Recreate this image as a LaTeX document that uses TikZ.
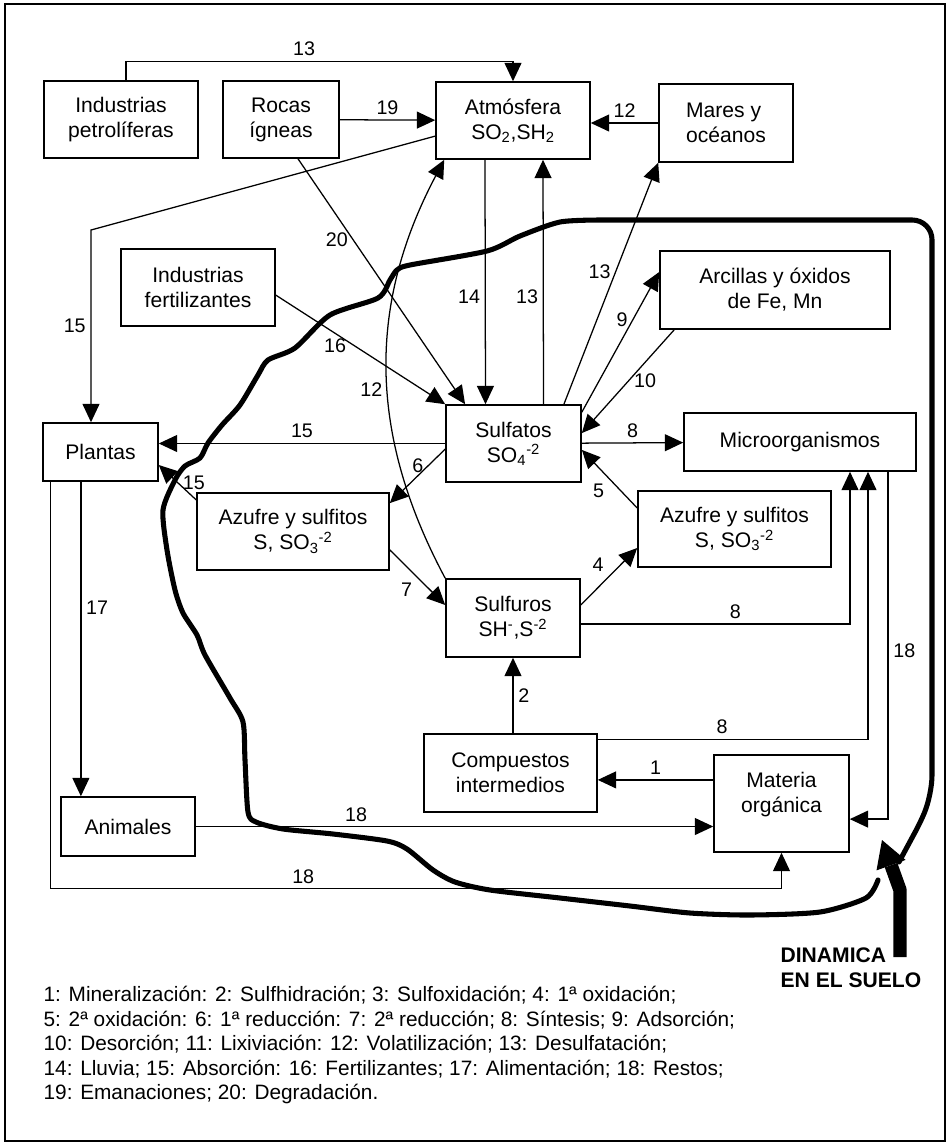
\documentclass[tikz,border=0pt]{standalone}
\usepackage{fontspec}
\setmainfont{Liberation Sans}
\usetikzlibrary{arrows.meta,positioning}

\begin{document}
\begin{tikzpicture}
			[->, >={Triangle[length=13pt,width=12pt]}, x=0.025cm, y=-0.025cm,
			line width=0.9pt, align=center, font=\fontsize{14}{17}\selectfont,
			box/.style 2 args={draw, line width=1.1pt, minimum width=#1, minimum height=#2,
				inner sep=2pt, font=\fontsize{15}{17.7}\selectfont},
			soil/.style={-, line width=3.6pt, line join=round, line cap=round}]
			\useasboundingbox (0,0) rectangle (948,1147);
			\draw[-, line width=1.2pt] (5,4) rectangle (945,1141);
			
			\node[box={3.85cm}{1.925cm}] (petro) at (121,119.5) {Industrias\\petrolíferas};
			\node[box={2.9cm}{1.925cm}] (rocas) at (281,119.5) {Rocas\\ígneas};
			\node[box={3.85cm}{1.925cm}] (atmos) at (513,120.5) {Atmósfera\\SO\textsubscript{2},SH\textsubscript{2}};
			\node[box={3.35cm}{1.95cm}, align=left] (mares) at (726,123) {Mares y\\océanos};
			\node[box={3.85cm}{1.925cm}] (fert) at (198,287.5) {Industrias\\fertilizantes};
			\node[box={5.75cm}{1.95cm}] (arcillas) at (775,290) {Arcillas y óxidos\\de Fe, Mn};
			\node[box={2.875cm}{1.45cm}] (plantas) at (100.5,452) {Plantas};
			\node[box={3.375cm}{1.925cm}] (sulfatos) at (513.5,443.5) {Sulfatos\\SO\textsubscript{4}\textsuperscript{-2}};
			\node[box={5.8cm}{1.45cm}] (micro) at (800,442) {Microorganismos};
			\node[box={4.8cm}{1.925cm}] (azufreL) at (293,531.5) {Azufre y sulfitos\\S, SO\textsubscript{3}\textsuperscript{-2}};
			\node[box={4.825cm}{1.9cm}] (azufreR) at (734.5,529) {Azufre y sulfitos\\S, SO\textsubscript{3}\textsuperscript{-2}};
			\node[box={3.35cm}{1.95cm}] (sulfuros) at (513,618) {Sulfuros\\SH\textsuperscript{-},S\textsuperscript{-2}};
			\node[box={4.325cm}{1.95cm}] (comp) at (510.5,773) {Compuestos\\intermedios};
			\node[box={3.375cm}{2.425cm}] (materia) at (781.5,803.5) {Materia\\orgánica\\[-2pt]\mbox{}};
			\node[box={3.35cm}{1.475cm}] (animales) at (128,826.5) {Animales};
			\coordinate (k15) at (91,230);
			
			\draw[-, every edge/.append style={->}]
			(rocas) edge node[above]{19} (atmos)
			(mares.west) edge node[above]{12} (mares.west -| atmos.east)
			([xshift=.425cm]rocas.south) edge node[pos=.33, left]{20} ([xshift=-1.21cm]sulfatos.north)
			([yshift=-.19cm]fert.east) edge node[pos=.35, below]{16} (sulfatos.north west)
			([xshift=-.7cm]atmos.south) edge node[pos=.56, left]{14} ([xshift=-.7cm]sulfatos.north)
			([xshift=.75cm]sulfatos.north) edge node[pos=.44, left]{13} ([xshift=.75cm]atmos.south)
			([xshift=1.26cm]sulfatos.north) edge node[pos=.55, left]{13} (mares.south west)
			([yshift=-.2cm]sulfatos.north east) edge node[pos=.66, left]{9} ([yshift=.45cm]arcillas.west)
			([xshift=.375cm]arcillas.south west) edge node[pos=.49, right]{10} ([yshift=.26cm]sulfatos.east)
			(sulfatos) edge node[above]{8} (micro)
			([yshift=.525cm]azufreR.west) edge node[below left]{5} ([yshift=-.16cm]sulfatos.east)
			([yshift=.325cm]sulfuros.east) edge node[above left]{4} ([yshift=-.475cm]azufreR.west)
			([yshift=-.46cm]azufreL.east) edge node[below left]{7} ([yshift=.325cm]sulfuros.west)
			([yshift=-.14cm]sulfatos.west) edge node[pos=.3, left]{6} ([yshift=.71cm]azufreL.east)
			(sulfatos.west) edge node[above]{15} (sulfatos.west -| plantas.east)
			([yshift=.79cm]azufreL.west) edge node[right]{15} ([yshift=-.325cm]plantas.east)
			(sulfuros.north west) edge[bend left=28] node[pos=.45, left]{12} ([xshift=.225cm]atmos.south west)
			(comp.north -| sulfuros.south) edge node[right]{2} (sulfuros.south)
			([yshift=.59cm]materia.west) edge node[above]{1} ([yshift=.59cm]materia.west -| comp.east)
			(animales.east) edge node[pos=.31, above]{18} (animales.east -| materia.west)
			([xshift=-.49cm]plantas.south) edge node[pos=.4, right]{17} ([xshift=-.49cm]plantas.south |- animales.north);
			
			\draw ([xshift=.125cm]petro.north) -- ++(0,-19) -| node[pos=.23, above]{13} (atmos.north);
			\draw ([yshift=-.39cm]atmos.west) -- (k15) -- node[left]{15} (k15 |- plantas.north);
			\draw ([yshift=-.15cm]sulfuros.east) -| node[pos=.287, above]{8} ([xshift=1.25cm]micro.south);
			\draw ([yshift=-.15cm]comp.north east) -| node[pos=.23, above]{8} ([xshift=1.7cm]micro.south);
			\draw ([xshift=2.2cm]micro.south) |- node[pos=.257, right]{18} ([yshift=-.39cm]materia.east);
			\draw ([xshift=.2cm]plantas.south west) |- node[pos=.673, above]{18} ([yshift=-.9cm]materia.south) -- (materia.south);
			
			\draw[soil] plot[smooth, tension=.45] coordinates {
				(878,880) (866,898) (820,912) (750,915) (690,913) (630,906) (560,898)
				(490,890) (455,882) (433,870) (407,849) (387,841) (333,834) (283,829)
				(256,822) (248,812) (245,760) (243,722) (230,698) (205,655) (197,635)
				(183,613) (175,590) (167,550) (163,510) (175,480) (185,466) (200,458)
				(208,443) (222,425) (240,405) (258,375) (268,360) (295,348) (330,315)
				(378,298) (390,280) (397,270) (410,265) (487,251) (520,236) (560,222) (600,220)}
				[rounded corners=14pt] -- (932,220) -- (932,795) [rounded corners=6pt] -- (920,823) -- (899,862);
			\draw[-{Triangle[length=19pt,width=22pt,line width=0pt]}, line width=9.5pt, line join=round]
				(900,957) -- (900,890) -- (882,840);
			
			\node[anchor=north west, align=left, inner sep=0pt, font=\bfseries\fontsize{15}{17.7}\selectfont] (suelo) at (780,947) {DINAMICA\\EN EL SUELO};
			\node[anchor=north west, align=left, inner sep=0pt, font=\fontsize{14.8}{17.4}\selectfont] (leyenda) at (43,986)
				{1: Mineralización: 2: Sulfhidración; 3: Sulfoxidación; 4: 1ª oxidación;\\
				5: 2ª oxidación: 6: 1ª reducción: 7: 2ª reducción; 8: Síntesis; 9: Adsorción;\\
				10: Desorción; 11: Lixiviación: 12: Volatilización; 13: Desulfatación;\\
				14: Lluvia; 15: Absorción: 16: Fertilizantes; 17: Alimentación; 18: Restos;\\
				19: Emanaciones; 20: Degradación.};
		\end{tikzpicture}
\end{document}
